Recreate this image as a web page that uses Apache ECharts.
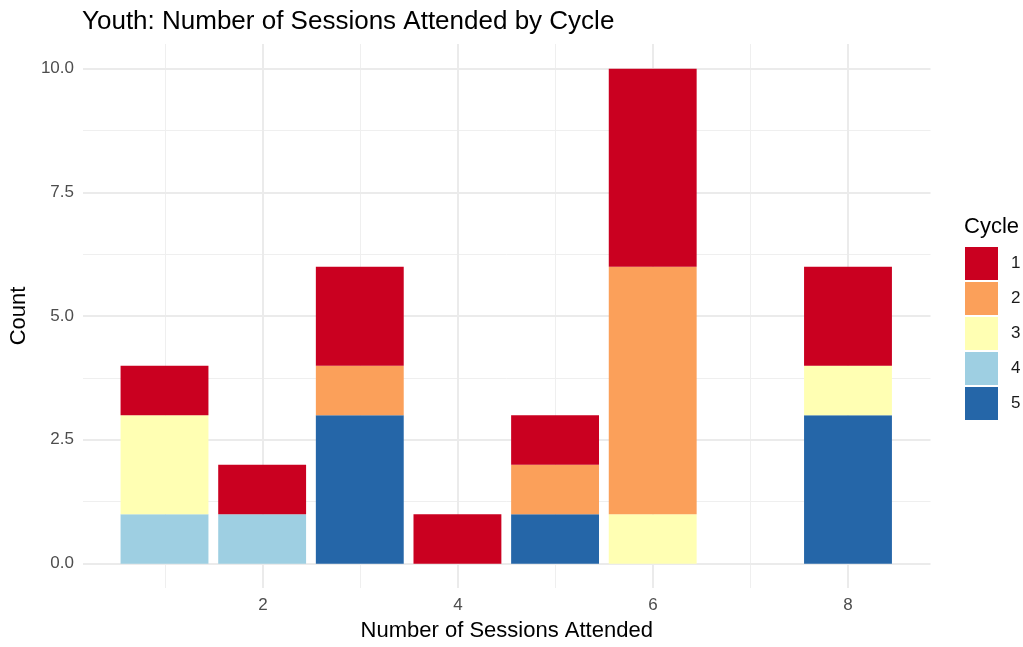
<!DOCTYPE html>
<html><head><meta charset="utf-8">
<script src="https://cdn.jsdelivr.net/npm/echarts@6/dist/echarts.min.js"></script>
<style>html,body{margin:0;padding:0;background:#fff}#c{width:1023px;height:647px}</style>
</head><body><div id="c"></div>
<script>
// Data
const sessions = ['1', '2', '3', '4', '5', '6', '7', '8'];
const cycle1 = [1, 1, 2, 1, 1, 4, 0, 2];
const cycle2 = [0, 0, 1, 0, 1, 5, 0, 0];
const cycle3 = [2, 0, 0, 0, 0, 1, 0, 1];
const cycle4 = [1, 1, 0, 0, 0, 0, 0, 0];
const cycle5 = [0, 0, 3, 0, 1, 0, 0, 3];
const cycleNames = ['1', '2', '3', '4', '5'];
const xTicks = [2, 4, 6, 8];
const xMinor = [1, 3, 5, 7];
const yTicks = [0, 2.5, 5, 7.5, 10];
const yMinor = [1.25, 3.75, 6.25, 8.75];

const colors = { '1': '#CA0020', '2': '#FBA05A', '3': '#FFFFB3', '4': '#9ECFE2', '5': '#2566A8' };
const values = { '1': cycle1, '2': cycle2, '3': cycle3, '4': cycle4, '5': cycle5 };
const FONT = "'Liberation Sans', Arial, Helvetica, sans-serif";

// panel geometry (ggplot-like expanded range)
const X_MIN = 0.155, X_MAX = 8.845, Y_MIN = -0.5, Y_MAX = 10.5;
const W = 1023, PANEL_L = 82, PANEL_R = 92.5, PANEL_T = 44, PANEL_B = 58.5;
const pxPerUnit = (W - PANEL_L - PANEL_R) / (X_MAX - X_MIN);
const barGridL = PANEL_L + (0.5 - X_MIN) * pxPerUnit;
const barGridR = PANEL_R + (X_MAX - (sessions.length + 0.5)) * pxPerUnit;

const gridMajor = { color: '#EBEBEB', width: 2, type: 'solid' };
const gridMinorStyle = { color: '#EFEFEF', width: 1, type: 'solid' };
const markData = []
  .concat(yMinor.map(v => ({ yAxis: v, lineStyle: gridMinorStyle })))
  .concat(xMinor.map(v => ({ xAxis: v, lineStyle: gridMinorStyle })))
  .concat(yTicks.map(v => ({ yAxis: v, lineStyle: gridMajor })))
  .concat(xTicks.map(v => ({ xAxis: v, lineStyle: gridMajor })));

// stack order: bottom = cycle 5, top = cycle 1
const stackOrder = ['5', '4', '3', '2', '1'];
const series = stackOrder.map(name => ({
  name: name,
  type: 'bar',
  stack: 'total',
  barWidth: '90%',
  xAxisIndex: 1, yAxisIndex: 1,
  z: 2,
  itemStyle: { color: colors[name] },
  emphasis: { disabled: true },
  data: values[name]
}));
series.unshift({
  name: 'grid', type: 'line', xAxisIndex: 0, yAxisIndex: 0, data: [], z: 1,
  markLine: {
    silent: true, symbol: 'none', z: 1, animation: false,
    label: { show: false }, emphasis: { disabled: true },
    data: markData
  }
});

const chart = echarts.init(document.getElementById('c'));
chart.setOption({
  animation: false,
  backgroundColor: '#ffffff',
  textStyle: { fontFamily: FONT },
  title: [
    { text: 'Youth: Number of Sessions Attended by Cycle', left: 82, top: 9, padding: 0,
      textStyle: { fontFamily: FONT, fontSize: 26, fontWeight: 'normal', color: '#000' } },
    { text: 'Cycle', left: 964, top: 216, padding: 0,
      textStyle: { fontFamily: FONT, fontSize: 22, fontWeight: 'normal', color: '#000' } }
  ],
  legend: {
    data: cycleNames,
    orient: 'vertical', left: 965, top: 247, padding: 0,
    itemWidth: 33, itemHeight: 33, itemGap: 2,
    icon: 'rect',
    selectedMode: false,
    textStyle: { fontFamily: FONT, fontSize: 17, color: '#1A1A1A', padding: [0, 0, 0, 8] }
  },
  grid: [
    { left: PANEL_L, right: PANEL_R, top: PANEL_T, bottom: PANEL_B, containLabel: false },
    { left: barGridL, right: barGridR, top: PANEL_T, bottom: PANEL_B, containLabel: false }
  ],
  xAxis: [
    {
      gridIndex: 0, type: 'value', min: X_MIN, max: X_MAX,
      name: 'Number of Sessions Attended', nameLocation: 'middle', nameGap: 32,
      nameTextStyle: { fontFamily: FONT, fontSize: 22, color: '#000' },
      axisLine: { show: false }, axisTick: { show: false, customValues: xTicks },
      splitLine: { show: false },
      axisLabel: { customValues: xTicks, margin: 9, fontFamily: FONT, fontSize: 17, color: '#4D4D4D',
        formatter: v => String(v) }
    },
    {
      gridIndex: 1, type: 'category', data: sessions, show: false
    }
  ],
  yAxis: [
    {
      gridIndex: 0, type: 'value', min: Y_MIN, max: Y_MAX,
      name: 'Count', nameLocation: 'middle', nameGap: 50,
      nameTextStyle: { fontFamily: FONT, fontSize: 22, color: '#000' },
      axisLine: { show: false }, axisTick: { show: false, customValues: yTicks },
      splitLine: { show: false },
      axisLabel: { customValues: yTicks, margin: 9, fontFamily: FONT, fontSize: 17, color: '#4D4D4D',
        formatter: v => Number(v).toFixed(1) }
    },
    {
      gridIndex: 1, type: 'value', min: Y_MIN, max: Y_MAX, show: false, splitLine: { show: false }
    }
  ],
  series: series
});
</script></body></html>
